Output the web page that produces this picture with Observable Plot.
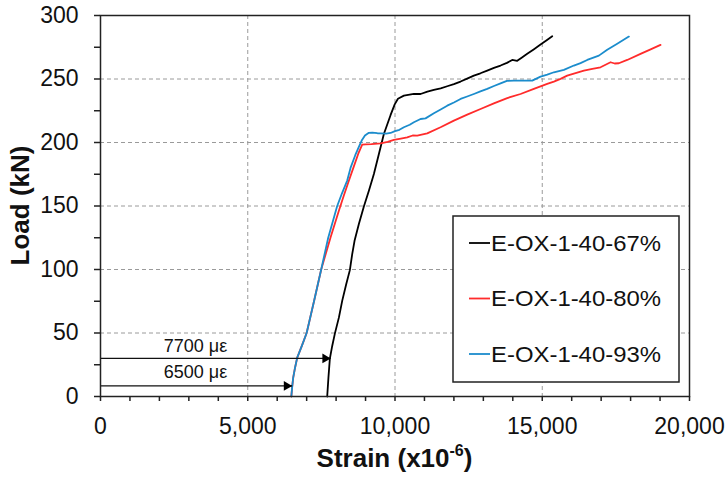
<!DOCTYPE html>
<html>
<head>
<meta charset="utf-8">
<script src="https://cdn.jsdelivr.net/npm/d3@7"></script>
<script src="https://cdn.jsdelivr.net/npm/@observablehq/plot@0.6"></script>
<style>
  html, body { margin: 0; padding: 0; background: #fff; }
  #chart svg { font-family: "Liberation Sans", Arial, sans-serif; }
</style>
</head>
<body>
<div id="chart"></div>
<script>
const seriesNames = ["E-OX-1-40-67%", "E-OX-1-40-80%", "E-OX-1-40-93%"];
const seriesColors = ["#000000", "#ff2b2b", "#1b8ccc"];

const blackStrain = [7698, 7740, 7788, 7868, 7958, 8094, 8207, 8343, 8467, 8547, 8626, 8773, 8943, 9113, 9283, 9453, 9622, 9848, 9990, 10100, 10302, 10641, 10868, 11100, 11320, 11550, 11773, 12000, 12226, 12450, 12678, 12900, 13131, 13360, 13584, 13800, 13980, 14150, 14300, 14490, 14720, 14942, 15150, 15339];
const blackLoad = [0, 15, 29.8, 39.8, 49.5, 62.1, 75.3, 88.4, 99.5, 112.1, 122.6, 135.8, 149.6, 162, 175.2, 190.9, 206.7, 221.5, 230, 234.5, 236.9, 238.2, 238.2, 240, 241.4, 242.7, 244.3, 246, 248, 250.3, 252.7, 254.5, 256.6, 258.7, 260.6, 262.7, 265, 264.3, 266.8, 269.8, 273.5, 277.1, 280.5, 283.7];

const redStrain = [6480, 6510, 6545, 6600, 6680, 6840, 7000, 7250, 7494, 7811, 8094, 8260, 8433, 8600, 8750, 8886, 9000, 9200, 9509, 9750, 9961, 10200, 10415, 10600, 10755, 11094, 11547, 11999, 12452, 12905, 13357, 13810, 14263, 14715, 15168, 15395, 15622, 15847, 16130, 16413, 16700, 16979, 17319, 17460, 17601, 17885, 18337, 18680, 19016];
const redLoad = [0, 8, 15, 22, 30.6, 40, 50, 75, 100, 125.2, 146.2, 158, 169.9, 181, 191, 198.3, 198.5, 198.7, 199.3, 200.5, 202, 203, 204, 205.5, 205.4, 207.2, 212, 217.2, 221.9, 226.4, 230.8, 235, 238.2, 242.2, 246.1, 248, 250.1, 252.7, 254.7, 256.6, 258, 259.2, 263.2, 262.2, 262.4, 265, 269.8, 273.3, 276.9];

const blueStrain = [6480, 6510, 6545, 6600, 6680, 6840, 7000, 7250, 7494, 7732, 8037, 8200, 8377, 8490, 8650, 8780, 8880, 8980, 9100, 9230, 9400, 9509, 9700, 9848, 10000, 10150, 10302, 10500, 10641, 10868, 11037, 11320, 11550, 11773, 12000, 12226, 12450, 12678, 12900, 13131, 13360, 13584, 13800, 14036, 14300, 14660, 14942, 15170, 15395, 15734, 16074, 16300, 16527, 16923, 17206, 17546, 17941];
const blueLoad = [0, 8, 15, 22, 30.6, 40, 50, 75, 100, 125, 150, 160, 170, 180, 190, 197, 202, 205.5, 207.5, 207.8, 207.3, 207.2, 207, 207.5, 209, 210, 212, 214, 215.9, 218.5, 219, 223, 226, 229, 231.5, 234.3, 236.2, 238.2, 240.2, 242.2, 244.5, 246.6, 248.5, 248.7, 248.7, 248.7, 251.9, 253.5, 255.3, 257.2, 260.6, 262.5, 265, 268.4, 273, 277.7, 283.4];

const xTicks = [0, 5000, 10000, 15000, 20000];
const xTickLabels = ["0", "5,000", "10,000", "15,000", "20,000"];
const yTicks = [0, 50, 100, 150, 200, 250, 300];
const yTickLabels = ["0", "50", "100", "150", "200", "250", "300"];
const xMinorStep = 1000;
const yMinorStep = 25;

const arrowStartStrain = [0, 0];
const arrowEndStrain = [7820, 6510];
const arrowLoad = [30, 8.3];
const arrowLabels = ["7700 με", "6500 με"];
const arrowLabelStrain = [3226, 3226];
const arrowLabelLoad = [39.8, 18.8];

// build tables
const lines = [];
const sx = [blackStrain, redStrain, blueStrain];
const sy = [blackLoad, redLoad, blueLoad];
seriesNames.forEach((name, i) => {
  sx[i].forEach((x, j) => lines.push({series: name, strain: x, load: sy[i][j]}));
});
const arrows = arrowLabels.map((l, i) => ({
  x1: arrowStartStrain[i], x2: arrowEndStrain[i], y: arrowLoad[i],
  label: l, lx: arrowLabelStrain[i], ly: arrowLabelLoad[i]
}));
const xMinor = d3.range(xTicks[0], xTicks[xTicks.length - 1] + 1, xMinorStep);
const yMinor = d3.range(yTicks[0], yTicks[yTicks.length - 1] + 1, yMinorStep);
const xFmt = d => { const k = xTicks.indexOf(d); return k >= 0 ? xTickLabels[k] : ""; };
const yFmt = d => { const k = yTicks.indexOf(d); return k >= 0 ? yTickLabels[k] : ""; };

const chart = Plot.plot({
  width: 725,
  height: 480,
  marginLeft: 100,
  marginRight: 36,
  marginTop: 15,
  marginBottom: 84,
  style: {fontFamily: "'Liberation Sans', Arial, sans-serif", background: "#fff"},
  x: {domain: [0, 20000]},
  y: {domain: [0, 300]},
  color: {domain: seriesNames, range: seriesColors},
  marks: [
    Plot.gridX(xTicks.slice(1, -1), {stroke: "#9a9a9a", strokeOpacity: 1, strokeDasharray: "4,3", strokeWidth: 1}),
    Plot.gridY(yTicks.slice(1, -1), {stroke: "#9a9a9a", strokeOpacity: 1, strokeDasharray: "4,3", strokeWidth: 1}),
    Plot.axisX(xMinor, {tickSize: 5, tickPadding: 16, tickFormat: xFmt, fontSize: 23, stroke: "#222", strokeWidth: 1.5, label: null, fill: "#111"}),
    Plot.axisY(yMinor, {tickSize: 6, tickPadding: 16, tickFormat: yFmt, fontSize: 23, stroke: "#222", strokeWidth: 1.5, label: null, fill: "#111"}),
    Plot.line(lines, {x: "strain", y: "load", z: "series", stroke: "series", strokeWidth: 1.8, curve: "linear"}),
    Plot.link(arrows, {x1: "x1", x2: "x2", y1: "y", y2: "y", stroke: "#111", strokeWidth: 1.2}),
    Plot.dot(arrows, {x: "x2", y: "y", symbol: "triangle", rotate: 90, r: 3.6, fill: "#000", stroke: "none", dx: -5.6}),
    Plot.text(arrows, {x: "lx", y: "ly", text: "label", fontSize: 18, fill: "#111", textAnchor: "middle"}),
    Plot.frame({stroke: "#222", strokeWidth: 1.5})
  ]
});

const svg = d3.select(chart);
// axis titles
svg.append("text")
  .attr("transform", "translate(29,205.5) rotate(-90)")
  .attr("text-anchor", "middle")
  .attr("font-size", 26).attr("font-weight", "bold").attr("fill", "#111")
  .text("Load (kN)");
const xt = svg.append("text")
  .attr("x", 394.5).attr("y", 467)
  .attr("text-anchor", "middle")
  .attr("font-size", 26).attr("font-weight", "bold").attr("fill", "#111");
xt.append("tspan").text("Strain (x10");
xt.append("tspan").attr("font-size", 16).attr("dy", -11).text("-6");
xt.append("tspan").attr("dy", 11).text(")");

// legend
const lg = svg.append("g").attr("text-anchor", "start");
lg.append("rect").attr("x", 453).attr("y", 216).attr("width", 226).attr("height", 166)
  .attr("fill", "#fff").attr("stroke", "#222").attr("stroke-width", 1.5);
seriesNames.forEach((name, i) => {
  const cy = 243 + i * 55.5;
  lg.append("line").attr("x1", 469).attr("x2", 490).attr("y1", cy).attr("y2", cy)
    .attr("stroke", seriesColors[i]).attr("stroke-width", 1.8);
  lg.append("text").attr("x", 491).attr("y", cy + 7.8).attr("text-anchor", "start")
    .attr("font-size", 22).attr("fill", "#111")
    .attr("textLength", 170).attr("lengthAdjust", "spacingAndGlyphs").text(name);
});

document.getElementById("chart").appendChild(chart);
</script>
</body>
</html>
